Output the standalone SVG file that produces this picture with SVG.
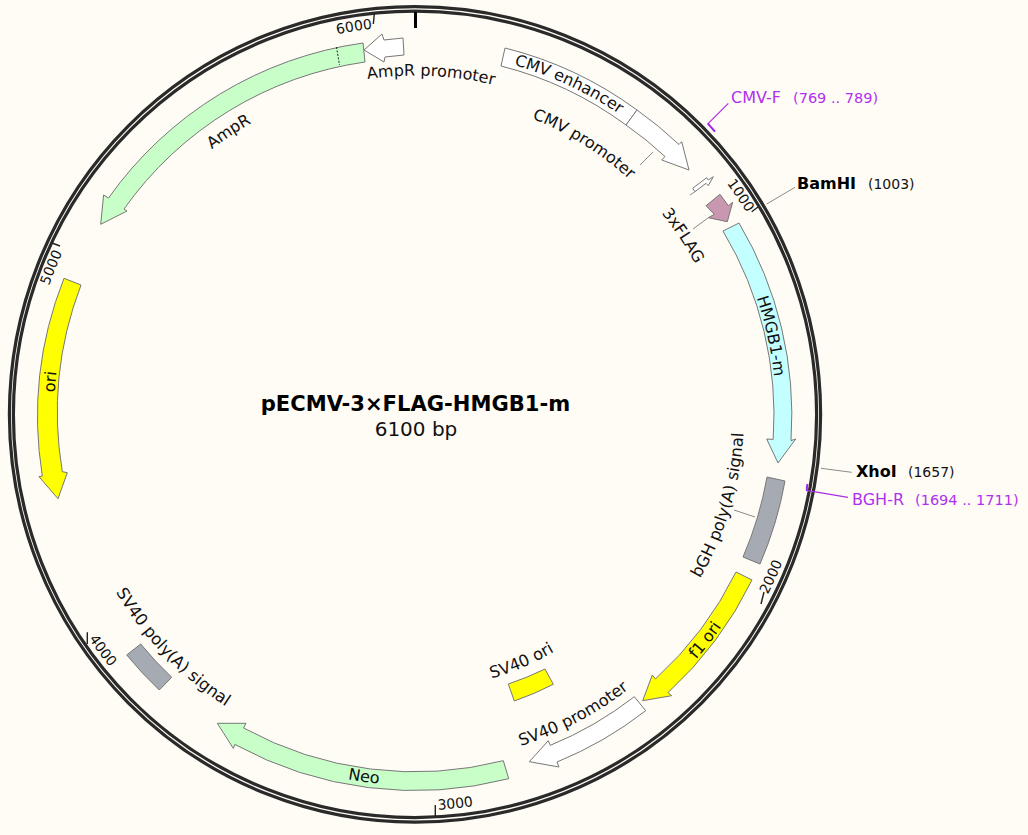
<svg xmlns="http://www.w3.org/2000/svg" width="1028" height="835" viewBox="0 0 1028 835">
<style>
text{font-family:"DejaVu Sans",Verdana,sans-serif;font-size:16px;fill:#111}
.tk{font-size:14px}
.cen{text-anchor:middle}
.f{stroke:#777;stroke-width:1;stroke-linejoin:miter}
.w{fill:#fff}.g{fill:#c8ffc8}.c{fill:#c4ffff}.y{fill:#ffff00}.s{fill:#a6aab2}.p{fill:#c997b0}
.ld{stroke:#8a8a8a;stroke-width:1;fill:none}
.pl{stroke:#a82ee8;stroke-width:1.2;fill:none}
.ring{fill:none;stroke:#2a2a2a;stroke-width:3.2}
.tick{stroke:#222;stroke-width:1.4}
.en{font-weight:700;fill:#000}
.nm{font-size:14px;fill:#111}
.pr{fill:#b030f0}
.prn{font-size:14.5px;fill:#b030f0}
</style>
<defs>
<path id="t339" d="M245.65 121A338.7 338.7 0 0 1 584.35 121"/>
<path id="t363" d="M233.5 99.9A363 363 0 0 1 596.5 99.9"/>
<path id="t318" d="M256 138.9A318 318 0 0 1 574 138.9"/>
<path id="t334" d="M248 125.1A334 334 0 0 1 582 125.1"/>
<path id="t361" d="M234.5 101.7A361 361 0 0 1 595.5 101.7"/>
<path id="t388" d="M221 78.3A388 388 0 0 1 609 78.3"/>
<path id="b329" d="M250.5 699.2A329 329 0 0 0 579.5 699.2"/>
<path id="b373" d="M228.5 737.3A373 373 0 0 0 601.5 737.3"/>
<path id="b348" d="M241 715.7A348 348 0 0 0 589 715.7"/>
<path id="b275" d="M277.5 652.5A275 275 0 0 0 552.5 652.5"/>
<path id="b371" d="M229.5 735.6A371 371 0 0 0 600.5 735.6"/>
<path id="b396" d="M217 757.3A396 396 0 0 0 613 757.3"/>
</defs>
<rect width="1028" height="835" fill="#fffcf5"/>
<g id="backbone">
<ellipse class="ring" cx="415" cy="414.4" rx="405.6" ry="407.8"/>
<ellipse class="ring" cx="415" cy="414.4" rx="401.6" ry="403.2"/>
<line x1="415.5" y1="12" x2="415.5" y2="28" stroke="#000" stroke-width="3"/>
<line class="tick" x1="751.7" y1="211.7" x2="758" y2="207"/>
<line class="tick" x1="761" y1="604" x2="764" y2="592"/>
<line class="tick" x1="435.3" y1="805" x2="435.3" y2="817"/>
<line class="tick" x1="87.3" y1="632.3" x2="87.3" y2="644"/>
<line class="tick" x1="52" y1="243" x2="60" y2="246"/>
<line class="tick" x1="374.3" y1="14" x2="373.3" y2="24"/>
<text class="tk cen" transform="rotate(56.1 415 414.3)"><textPath href="#t388" startOffset="50%">1000</textPath></text>
<text class="tk cen" transform="rotate(-65.5 415 414.3)"><textPath href="#b396" startOffset="50%">2000</textPath></text>
<text class="tk cen" transform="rotate(-5.9 415 414.3)"><textPath href="#b396" startOffset="50%">3000</textPath></text>
<text class="tk cen" transform="rotate(52.9 415 414.3)"><textPath href="#b396" startOffset="50%">4000</textPath></text>
<text class="tk cen" transform="rotate(-68 415 414.3)"><textPath href="#t388" startOffset="50%">5000</textPath></text>
<text class="tk cen" transform="rotate(-8.95 415 414.3)"><textPath href="#t388" startOffset="50%">6000</textPath></text>
</g>
<g id="connectors">
<line class="ld" x1="653" y1="152" x2="640" y2="165"/>
<line class="ld" x1="690" y1="195" x2="695" y2="191.7"/>
<line class="ld" x1="708" y1="218" x2="693" y2="229"/>
<line class="ld" x1="755" y1="517" x2="734" y2="510"/>
<line class="ld" x1="766.7" y1="204" x2="795" y2="187.3"/>
<line class="ld" x1="821" y1="468.3" x2="851.7" y2="472.3"/>
<line class="pl" x1="708.3" y1="123.3" x2="728.3" y2="103.3"/>
<line class="pl" x1="808" y1="490.7" x2="848" y2="497.3"/>
</g>
<g id="CMV-F"><path d="M707.7 123.3L715 131.7" stroke="#a020f0" stroke-width="2" fill="none"/>
<text class="pr" x="731" y="103">CMV-F</text><text class="prn" x="793" y="103">(769 .. 789)</text></g>
<g id="BGH-R"><path d="M807.5 484Q806.5 488 807 491" stroke="#a020f0" stroke-width="2" fill="none"/>
<text class="pr" x="852" y="505">BGH-R</text><text class="prn" x="915" y="505">(1694 .. 1711)</text></g>
<g id="BamHI"><text class="en" x="797" y="189">BamHI</text><text class="nm" x="868" y="189">(1003)</text></g>
<g id="XhoI"><text class="en" x="856" y="477">XhoI</text><text class="nm" x="908" y="477">(1657)</text></g>
<g id="AmpR">
<path class="f g" d="M363 43A375.6 375.6 0 0 0 108.5 198L103.6 195L100.7 224.3L127 211L124 209A356.5 356.5 0 0 1 365 62Z"/>
<line x1="336.5" y1="47" x2="339.5" y2="65" stroke="#222" stroke-width="1" stroke-dasharray="2 1.5"/>
<text class="cen" transform="rotate(-33.4 415 414.3)"><textPath href="#t334" startOffset="50%">AmpR</textPath></text>
</g>
<g id="AmpR-promoter">
<polygon class="f w" points="364,50 382,34 384,40 403,38 404,55 385,57 384,62"/>
<text class="cen" transform="rotate(2.7 415 414.3)"><textPath href="#t339" startOffset="50%">AmpR promoter</textPath></text>
</g>
<g id="CMV-enhancer">
<path class="f w" d="M505 48A378 378 0 0 1 637 110L626 125A359.5 359.5 0 0 0 501 66Z"/>
<text class="cen" transform="rotate(25 415 414.3)"><textPath href="#t363" startOffset="50%">CMV enhancer</textPath></text>
</g>
<g id="CMV-promoter">
<path class="f w" d="M637 110A378 378 0 0 1 679 144.5L681.7 141.7L689 170L661.7 160L665 156.5A359.5 359.5 0 0 0 626 125Z"/>
<text class="cen" transform="rotate(32 415 414.3)"><textPath href="#t318" startOffset="50%">CMV promoter</textPath></text>
</g>
<g id="small-feature">
<polygon class="f w" points="692.7,188.3 706.7,177.7 708.3,180 713.3,176.7 708.3,185.7 706,183.3 695,191.7"/>
</g>
<g id="a3xFLAG">
<polygon class="f p" points="706,205.7 720,194.3 728.3,205.7 732.7,202.3 727.3,221.7 708.3,217.7 714.3,214.3"/>
<text class="cen" transform="rotate(56.3 415 414.3)"><textPath href="#t318" startOffset="50%">3xFLAG</textPath></text>
</g>
<g id="HMGB1-m">
<path class="f c" d="M723 231L739 223A376.6 376.6 0 0 1 791 440.6L795.7 439L778 463L766.7 439L773.2 439.4A358.8 358.8 0 0 0 723 231Z"/>
<text class="cen" transform="rotate(77.6 415 414.3)"><textPath href="#t361" startOffset="50%">HMGB1-m</textPath></text>
</g>
<g id="bGH-polyA">
<path class="f s" d="M767 477L785 481A376 376 0 0 1 760 564L743 557A357.5 357.5 0 0 0 767 477Z"/>
<text class="cen" style="font-size:16.4px" transform="rotate(-73.4 415 414.3)"><textPath href="#b329" startOffset="50%">bGH poly(A) signal</textPath></text>
</g>
<g id="f1-ori">
<path class="f y" d="M736 572L752 580A375 375 0 0 1 668 692.6L671.7 695.7L642.7 700.7L652.3 675L655.5 678.9A357 357 0 0 0 736 572Z"/>
<text class="cen" transform="rotate(-52.1 415 414.3)"><textPath href="#b373" startOffset="50%">f1 ori</textPath></text>
</g>
<g id="SV40-promoter">
<path class="f w" d="M634.3 696.7L645.7 710.7A375 375 0 0 1 557 762L559 767L529.3 761.7L548.3 740.7L550.2 745.4A357 357 0 0 0 634.3 696.7Z"/>
<text class="cen" style="font-size:16.3px" transform="rotate(-27.8 415 414.3)"><textPath href="#b348" startOffset="50%">SV40 promoter</textPath></text>
</g>
<g id="SV40-ori">
<path class="f y" d="M508.3 684A285 285 0 0 0 545 669L553.3 684.3A302.6 302.6 0 0 1 514.3 701Z"/>
<text class="cen" style="font-size:16.3px" transform="rotate(-23.3 415 414.3)"><textPath href="#b275" startOffset="50%">SV40 ori</textPath></text>
</g>
<g id="Neo">
<path class="f g" d="M503.3 760.7L508.7 778.7A375.6 375.6 0 0 1 234.8 744.4L233.3 748.3L217.3 723.3L246 723.3L243.6 728A357 357 0 0 0 503.3 760.7Z"/>
<text class="cen" transform="rotate(8 415 414.3)"><textPath href="#b371" startOffset="50%">Neo</textPath></text>
</g>
<g id="SV40-polyA">
<path class="f s" d="M126.7 655L140.7 644A357.5 357.5 0 0 0 171.7 677.3L159.3 690A375.5 375.5 0 0 1 126.7 655Z"/>
<text class="cen" style="font-size:16.4px" transform="rotate(46.1 415 414.3)"><textPath href="#b348" startOffset="50%">SV40 poly(A) signal</textPath></text>
</g>
<g id="ori">
<path class="f y" d="M64 278.3A376.5 376.5 0 0 0 42.3 476L39 476.7L58 498.7L67.3 472.7L62.3 471.7A358 358 0 0 1 81 285Z"/>
<text class="cen" transform="rotate(-84.9 415 414.3)"><textPath href="#t361" startOffset="50%">ori</textPath></text>
</g>
<g id="title">
<text class="cen" x="415.5" y="411" style="font-size:21.1px;font-weight:700;fill:#000">pECMV-3×FLAG-HMGB1-m</text>
<text class="cen" x="416" y="436" style="font-size:20px">6100 bp</text>
</g>
</svg>
